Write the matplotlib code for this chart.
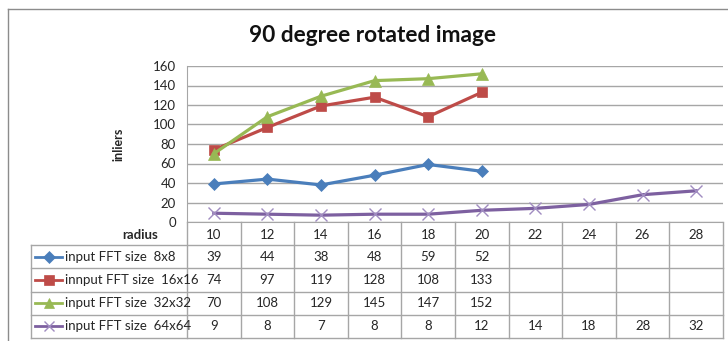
import numpy as np
import matplotlib.pyplot as plt
from matplotlib.lines import Line2D

plt.rcParams['font.family'] = ['Lato', 'DejaVu Sans']

# radius values (x categories) and inliers per FFT size
radius = [10, 12, 14, 16, 18, 20, 22, 24, 26, 28]
fft8 = [39, 44, 38, 48, 59, 52]
fft16 = [74, 97, 119, 128, 108, 133]
fft32 = [70, 108, 129, 145, 147, 152]
fft64 = [9, 8, 7, 8, 8, 12, 14, 18, 28, 32]
names = ['input FFT size  8x8', 'innput FFT size  16x16',
         'input FFT size  32x32', 'input FFT size  64x64']

series = [fft8, fft16, fft32, fft64]
colors = ['#4a7ebb', '#be4b48', '#98b954', '#7d60a0']
markers = ['D', 's', '^', 'x']
msizes = [6.5, 7.5, 8, 8]

W, H = 728, 341
fig = plt.figure(figsize=(W / 100, H / 100), dpi=100)
fig.patch.set_facecolor('white')

def px_rect(x0, y0, x1, y1):
    return [x0 / W, 1 - y1 / H, (x1 - x0) / W, (y1 - y0) / H]

# outer chart frame
fig.add_artist(Line2D([8 / W, 1], [1 - 9 / H, 1 - 9 / H], color='#8c8c8c', lw=1))
fig.add_artist(Line2D([8 / W, 8 / W], [0, 1 - 9 / H], color='#8c8c8c', lw=1))

grid_c = '#a6a6a6'
text_c = '#262626'

# ---- plot area ----
ax = fig.add_axes(px_rect(187, 66, 723, 222))
n = len(radius)
for vals, c, m, ms in zip(series, colors, markers, msizes):
    x = np.arange(len(vals))
    ax.plot(x, vals, color=c, lw=2.3, marker=m, ms=ms, mew=1.0 if m == 'x' else 0.5,
            mec='#a08cc0' if m == 'x' else c, mfc=c, clip_on=False, zorder=3)
ax.set_xlim(-0.5, n - 0.5)
ax.set_ylim(0, 160)
ax.set_yticks(range(0, 161, 20))
ax.set_xticks([])
ax.yaxis.grid(True, color=grid_c, lw=1)
ax.set_axisbelow(True)
for s in ['top', 'right']:
    ax.spines[s].set_visible(False)
for s in ['left', 'bottom']:
    ax.spines[s].set_color(grid_c)
ax.tick_params(axis='y', length=0, pad=8, labelsize=9.5, labelcolor=text_c)
ax.set_ylabel('inliers', fontsize=9, fontweight='bold', labelpad=20, color=text_c)

fig.text(373 / W, 1 - 36 / H, '90 degree rotated image', ha='center', va='center',
         fontsize=16.3, fontweight='bold', color='#111111')

# ---- data table below the plot ----
col_w = (723 - 187) / n
leg_units = (187 - 31) / col_w
tab = fig.add_axes(px_rect(31, 222, 723, 338))
x_left = -0.5 - leg_units
tab.set_xlim(x_left, n - 0.5)
tab.set_ylim(5, 0)
tab.axis('off')

# header row: radius values
tab.text(x_left + leg_units - 29 / col_w, 0.55, 'radius', ha='right', va='center',
         fontsize=9.5, fontweight='bold', color=text_c)
for i, r in enumerate(radius):
    tab.text(i, 0.55, str(r), ha='center', va='center', fontsize=9.5, color=text_c)

# grid lines of the table
for i in range(n + 1):
    tab.plot([i - 0.5, i - 0.5], [0, 5], color=grid_c, lw=1, clip_on=False)
tab.plot([x_left, x_left], [1, 5], color=grid_c, lw=1, clip_on=False)
for j in range(1, 6):
    tab.plot([x_left, n - 0.5], [j, j], color=grid_c, lw=1, clip_on=False)

for j, (vals, name, c, m, ms) in enumerate(zip(series, names, colors, markers, msizes)):
    yc = j + 1.5
    k0 = x_left + 4 / col_w
    k1 = x_left + 31 / col_w
    tab.plot([k0, k1], [yc, yc], color=c, lw=2, clip_on=False)
    tab.plot([(k0 + k1) / 2], [yc], marker=m, color=c, ms=ms * 0.9,
             mec='#a08cc0' if m == 'x' else c,
             mew=1.0 if m == 'x' else 0.5, clip_on=False)
    tab.text(x_left + 34 / col_w, yc, name, ha='left', va='center',
             fontsize=9.5, color=text_c)
    for i, v in enumerate(vals):
        tab.text(i, yc, str(v), ha='center', va='center', fontsize=9.5, color=text_c)

fig.savefig('out.png', dpi=100, facecolor='white')
